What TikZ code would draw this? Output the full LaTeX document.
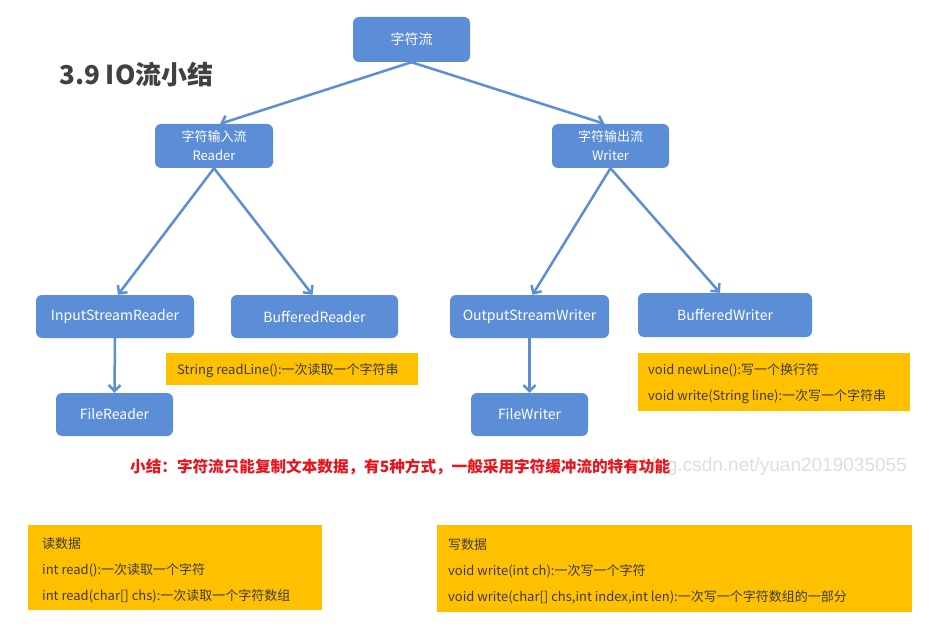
\documentclass[tikz,border=0pt]{standalone}
\usepackage{fontspec}
\setmainfont{Noto Sans CJK SC}
\newfontfamily\wmfont{Liberation Sans}
\usetikzlibrary{arrows.meta}
\definecolor{nodeblue}{HTML}{5B8ED6}
\definecolor{boxorange}{HTML}{FFC000}
\definecolor{titlegray}{HTML}{404040}
\definecolor{redtext}{HTML}{E8141E}
\definecolor{notetext}{HTML}{3C3C3C}
\begin{document}
\begin{tikzpicture}[x=1pt,y=-1pt,
  bluebox/.style={fill=nodeblue, rounded corners=6pt, text=white, align=center,
    inner sep=0pt, font=\fontsize{14}{17}\selectfont},
  notebox/.style={fill=boxorange, inner sep=0pt},
  notetxt/.style={anchor=west, align=left, inner sep=0pt, text=notetext,
    font=\fontsize{13}{26}\selectfont},
  conn/.style={draw=nodeblue, line width=2.5pt, -{Straight Barb[length=6pt,width=12pt]}}]
\useasboundingbox (0,0) rectangle (929,639);
\fill[white] (0,0) rectangle (929,639);

\node[anchor=west, inner sep=0pt, text=titlegray, font=\fontsize{26}{26}\selectfont\bfseries] (title) at (59,75) {3.9 IO流小结};

\node[bluebox, minimum width=117pt, minimum height=45pt] (root) at (411.5,39.5) {字符流};
\node[bluebox, minimum width=118pt, minimum height=44pt, font=\fontsize{13}{19}\selectfont] (reader) at (214,146) {字符输入流\\Reader};
\node[bluebox, minimum width=117pt, minimum height=44pt, font=\fontsize{13}{19}\selectfont] (writer) at (610.5,146) {字符输出流\\Writer};

\node[bluebox, minimum width=158pt, minimum height=43pt] (isr) at (115,316.5) {InputStreamReader};
\node[bluebox, minimum width=167pt, minimum height=43pt] (bufr) at (314.5,316.5) {BufferedReader};
\node[bluebox, minimum width=117pt, minimum height=43pt] (fr) at (114.5,414.5) {FileReader};

\node[bluebox, minimum width=159pt, minimum height=43pt] (osw) at (529.5,316.5) {OutputStreamWriter};
\node[bluebox, minimum width=174pt, minimum height=44pt] (bufw) at (725,315) {BufferedWriter};
\node[bluebox, minimum width=117pt, minimum height=43pt] (fw) at (529.5,414.5) {FileWriter};

\draw[conn] (root.south) -- ([xshift=6pt]reader.north);
\draw[conn] (root.south) -- ([xshift=-6pt]writer.north);
\draw[conn] (reader.south) -- ([xshift=3pt]isr.north);
\draw[conn] (reader.south) -- ([xshift=-2pt]bufr.north);
\draw[conn] (writer.south) -- ([xshift=3pt]osw.north);
\draw[conn] (writer.south) -- ([xshift=-5pt]bufw.north);
\draw[conn] (isr.south) -- (fr.north);
\draw[conn] (osw.south) -- (fw.north);

\node[notebox, minimum width=252pt, minimum height=32pt] (rlbox) at (292,369) {};
\node[notetxt] (rltext) at (177,371) {String readLine():一次读取一个字符串};

\node[notebox, minimum width=272pt, minimum height=58pt] (nlbox) at (774,382) {};
\node[notetxt] (nltext) at (648,384) {void newLine():写一个换行符\\void write(String line):一次写一个字符串};

\node[anchor=east, inner sep=0pt, text=black!13, font=\wmfont\fontsize{19}{19}\selectfont] (wmark) at (907,467) {blog.csdn.net/yuan2019035055};
\node[anchor=west, inner sep=0pt, text=redtext, font=\fontsize{15.6}{16}\selectfont\bfseries] (summary) at (130,467) {小结：字符流只能复制文本数据，有5种方式，一般采用字符缓冲流的特有功能};

\node[notebox, minimum width=294pt, minimum height=85pt] (rdbox) at (175,567.5) {};
\node[notetxt] (rdtext) at (42,570) {读数据\\int read():一次读取一个字符\\int read(char[] chs):一次读取一个字符数组};

\node[notebox, minimum width=475pt, minimum height=87pt] (wrbox) at (674.5,568.5) {};
\node[notetxt] (wrtext) at (448,571) {写数据\\void write(int ch):一次写一个字符\\void write(char[] chs,int index,int len):一次写一个字符数组的一部分};
\end{tikzpicture}
\end{document}
